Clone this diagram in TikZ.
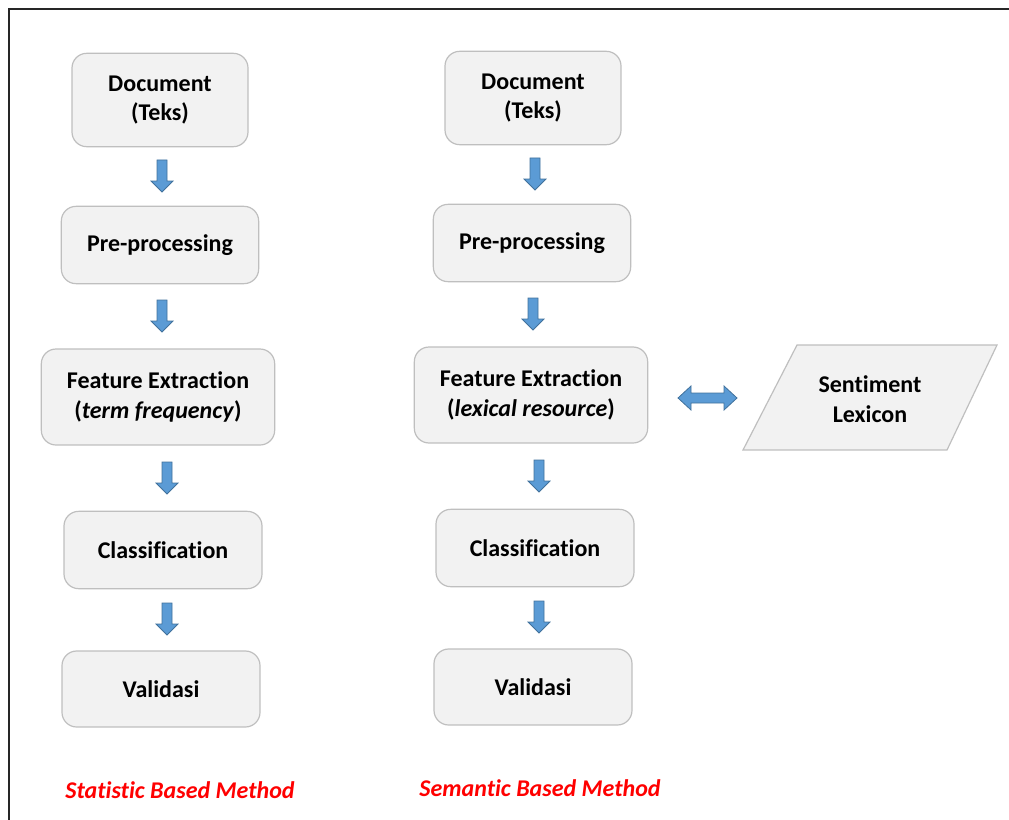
\documentclass[tikz,border=0pt]{standalone}
\usepackage{fontspec}
\setmainfont{Carlito}[Ligatures=NoCommon]
\usetikzlibrary{calc}
\definecolor{boxfill}{HTML}{F2F2F2}
\definecolor{boxline}{HTML}{BFBFBF}
\definecolor{arrowfill}{HTML}{5B9BD5}
\definecolor{arrowline}{HTML}{41719C}
\definecolor{methodred}{HTML}{FF0000}
\tikzset{
  stepbox/.style={draw=boxline, fill=boxfill, line width=0.9pt, rounded corners=11pt,
    align=center, font=\fontsize{18}{22}\selectfont\bfseries, inner sep=2pt},
  blockarrow/.style={draw=arrowline, fill=arrowfill, line width=0.6pt, line join=miter},
  methodlabel/.style={font=\fontsize{18}{20}\selectfont\bfseries\itshape, text=methodred},
  pics/downarrow/.style={code={
    \path[blockarrow] (-5,0) -- (5,0) -- (5,21) -- (11,21) -- (0,32) -- (-11,21) -- (-5,21) -- cycle;
  }},
}
\begin{document}
\begin{tikzpicture}[x=0.75pt,y=-0.75pt]
\useasboundingbox (0,0) rectangle (1009,820);
% outer frame (open to the right and bottom)
\draw[line width=1.5pt, black!85] (9,830) -- (9,9) -- (1020,9);

% statistic based pipeline
\node[stepbox, minimum width=132pt, minimum height=70pt] (sdoc) at (160,100) {Document\\(Teks)};
\node[stepbox, minimum width=148pt, minimum height=58pt] (spre) at (160,245) {Pre-processing};
\node[stepbox, minimum width=175pt, minimum height=72pt] (sfe) at (158,397) {Feature Extraction\\(\textit{term frequency})};
\node[stepbox, minimum width=148.5pt, minimum height=58pt] (scls) at (163,550) {Classification};
\node[stepbox, minimum width=148.5pt, minimum height=57pt] (sval) at (161,689) {Validasi};

% semantic based pipeline
\node[stepbox, minimum width=132pt, minimum height=70pt] (mdoc) at (533,98) {Document\\(Teks)};
\node[stepbox, minimum width=148pt, minimum height=58pt] (mpre) at (532,243) {Pre-processing};
\node[stepbox, minimum width=175pt, minimum height=72pt] (mfe) at (531,395) {Feature Extraction\\(\textit{lexical resource})};
\node[stepbox, minimum width=148.5pt, minimum height=58pt] (mcls) at (535,548) {Classification};
\node[stepbox, minimum width=148.5pt, minimum height=57pt] (mval) at (533,687) {Validasi};

% sentiment lexicon (data parallelogram)
\coordinate (lexa) at (797,345);
\coordinate (lexb) at (997,345);
\coordinate (lexc) at (947,450);
\coordinate (lexd) at (743,450);
\draw[draw=boxline, fill=boxfill, line width=0.9pt, line join=miter] (lexa) -- (lexb) -- (lexc) -- (lexd) -- cycle;
\node[align=center, font=\fontsize{18}{22}\selectfont\bfseries] (lex) at (870,399) {Sentiment\\Lexicon};

% block arrows between steps
\pic at (162,160) {downarrow};
\pic at (162,300) {downarrow};
\pic at (167,462) {downarrow};
\pic at (167,603) {downarrow};
\pic at (535,158) {downarrow};
\pic at (533,298) {downarrow};
\pic at (539,460) {downarrow};
\pic at (539,601) {downarrow};

% two-way arrow between feature extraction and the lexicon
\path[blockarrow] (678,398) -- (691,386) -- (691,393) -- (724,393) -- (724,386) -- (737,398)
  -- (724,410) -- (724,403) -- (691,403) -- (691,410) -- cycle;

% method captions
\node[methodlabel] (stat) at (180,790) {Statistic Based Method};
\node[methodlabel] (sem) at (540,788) {Semantic Based Method};
\end{tikzpicture}
\end{document}
